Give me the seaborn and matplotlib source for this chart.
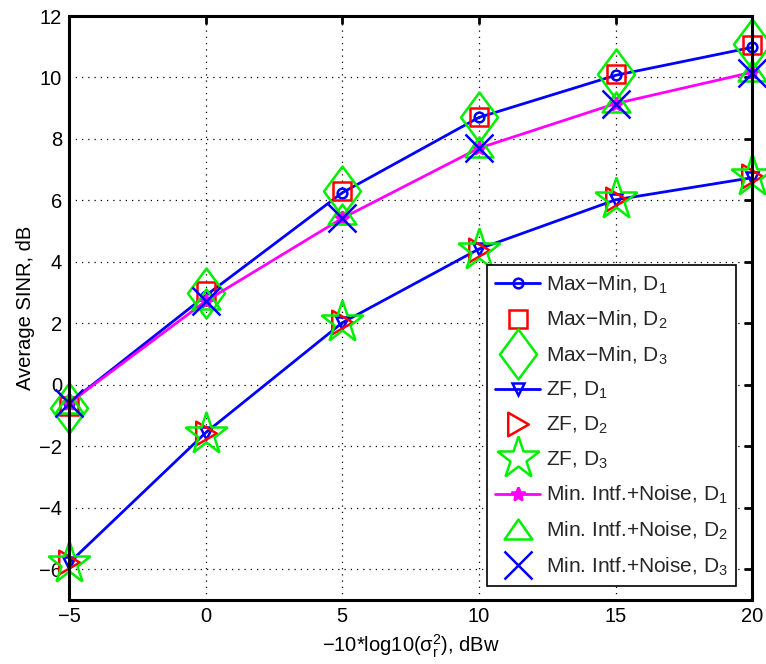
import numpy as np
import pandas as pd
import matplotlib
matplotlib.use("Agg")
import matplotlib.pyplot as plt
import seaborn as sns
from matplotlib.path import Path

# Noise power settings (x axis)
noise_db = [-5, 0, 5, 10, 15, 20]

# Average SINR values, dB
maxmin_d1 = [-0.6, 2.9, 6.25, 8.7, 10.07, 10.98]
maxmin_d2 = [-0.7, 3.05, 6.3, 8.72, 10.1, 11.05]
maxmin_d3 = [-0.75, 3.0, 6.3, 8.72, 10.12, 11.08]
zf_d1 = [-5.8, -1.56, 2.02, 4.42, 6.02, 6.74]
zf_d2 = [-5.78, -1.58, 2.05, 4.4, 6.05, 6.78]
zf_d3 = [-5.8, -1.6, 2.05, 4.4, 6.05, 6.78]
mi_d1 = [-0.6, 2.72, 5.42, 7.7, 9.15, 10.17]
mi_d2 = [-0.6, 2.8, 5.55, 7.75, 9.2, 10.2]
mi_d3 = [-0.6, 2.74, 5.42, 7.7, 9.15, 10.15]

labels = [
    "Max\u2212Min, D$_1$", "Max\u2212Min, D$_2$", "Max\u2212Min, D$_3$",
    "ZF, D$_1$", "ZF, D$_2$", "ZF, D$_3$",
    "Min. Intf.+Noise, D$_1$", "Min. Intf.+Noise, D$_2$", "Min. Intf.+Noise, D$_3$",
]
values = [maxmin_d1, maxmin_d2, maxmin_d3, zf_d1, zf_d2, zf_d3, mi_d1, mi_d2, mi_d3]

sns.set_theme(style="white")
plt.rcParams["font.family"] = ["Liberation Sans", "DejaVu Sans"]
plt.rcParams["mathtext.fontset"] = "custom"
plt.rcParams["mathtext.rm"] = "Liberation Sans"
plt.rcParams["mathtext.it"] = "Liberation Sans"
plt.rcParams["mathtext.default"] = "regular"

# MATLAB-like marker shapes
diamond = Path([(0, 1), (0.74, 0), (0, -1), (-0.74, 0), (0, 1)],
               [Path.MOVETO, Path.LINETO, Path.LINETO, Path.LINETO, Path.CLOSEPOLY])
tri_up = Path([(0, 0.72), (-1, -0.72), (1, -0.72), (0, 0.72)],
              [Path.MOVETO, Path.LINETO, Path.LINETO, Path.CLOSEPOLY])
tri_right = Path([(0.87, 0), (-0.87, 1), (-0.87, -1), (0.87, 0)],
                 [Path.MOVETO, Path.LINETO, Path.LINETO, Path.CLOSEPOLY])

styles = [
    dict(color="#0000ff", marker="o", ms=7, ls="-", mfc="none"),
    dict(color="#ff0000", marker="s", ms=13, ls="none", mfc="none"),
    dict(color="#00ee00", marker=diamond, ms=36, ls="none", mfc="none"),
    dict(color="#0000ff", marker="v", ms=8, ls="-", mfc="none"),
    dict(color="#ff0000", marker=tri_right, ms=17, ls="none", mfc="none"),
    dict(color="#00ee00", marker="*", ms=32, ls="none", mfc="none"),
    dict(color="#ff00ff", marker="*", ms=10, ls="-", mfc="#ff00ff"),
    dict(color="#00ee00", marker=tri_up, ms=20, ls="none", mfc="none"),
    dict(color="#0000ff", marker="x", ms=20, ls="none", mfc="none"),
]

fig = plt.figure(figsize=(7.66, 6.64), dpi=100)
ax = fig.add_axes([0.090, 0.0964, 0.892, 0.8795])

for lab, vals, st in zip(labels, values, styles):
    df = pd.DataFrame({"x": noise_db, "y": vals})
    sns.lineplot(data=df, x="x", y="y", ax=ax, label=lab,
                 color=st["color"], marker=st["marker"], markersize=st["ms"],
                 linestyle=st["ls"], markerfacecolor=st["mfc"],
                 markeredgecolor=st["color"], markeredgewidth=1.8,
                 linewidth=2.0, estimator=None, sort=False, clip_on=False)

ax.set_xlim(-5, 20)
ax.set_ylim(-7, 12)
ax.set_xticks([-5, 0, 5, 10, 15, 20])
ax.set_yticks(np.arange(-6, 13, 2))
ax.set_xticklabels(["\u22125", "0", "5", "10", "15", "20"])
ax.set_yticklabels([("\u2212%d" % -v) if v < 0 else "%d" % v for v in range(-6, 13, 2)])
ax.grid(True, linestyle=(0, (1, 4)), color="black", linewidth=0.9)
ax.tick_params(direction="in", length=6, width=2, labelsize=14.5, pad=5,
               top=True, right=True, colors="black")
for sp in ax.spines.values():
    sp.set_color("black")
    sp.set_linewidth(2.2)
    sp.set_zorder(3)

ax.set_xlabel("\u221210*log10($\\sigma_r^2$), dBw", fontsize=14.5, color="black", labelpad=5)
ax.set_ylabel("Average SINR, dB", fontsize=14.5, color="black", labelpad=3)

leg = ax.legend(loc="lower right", bbox_to_anchor=(0.977, 0.024), fontsize=15,
                frameon=True, fancybox=False, edgecolor="black", framealpha=1,
                handlelength=2.15, labelspacing=0.64, borderpad=0.4,
                handletextpad=0.3, borderaxespad=0)
leg.get_frame().set_linewidth(1.2)
leg.set_zorder(10)

fig.savefig("out.png", dpi=100)
